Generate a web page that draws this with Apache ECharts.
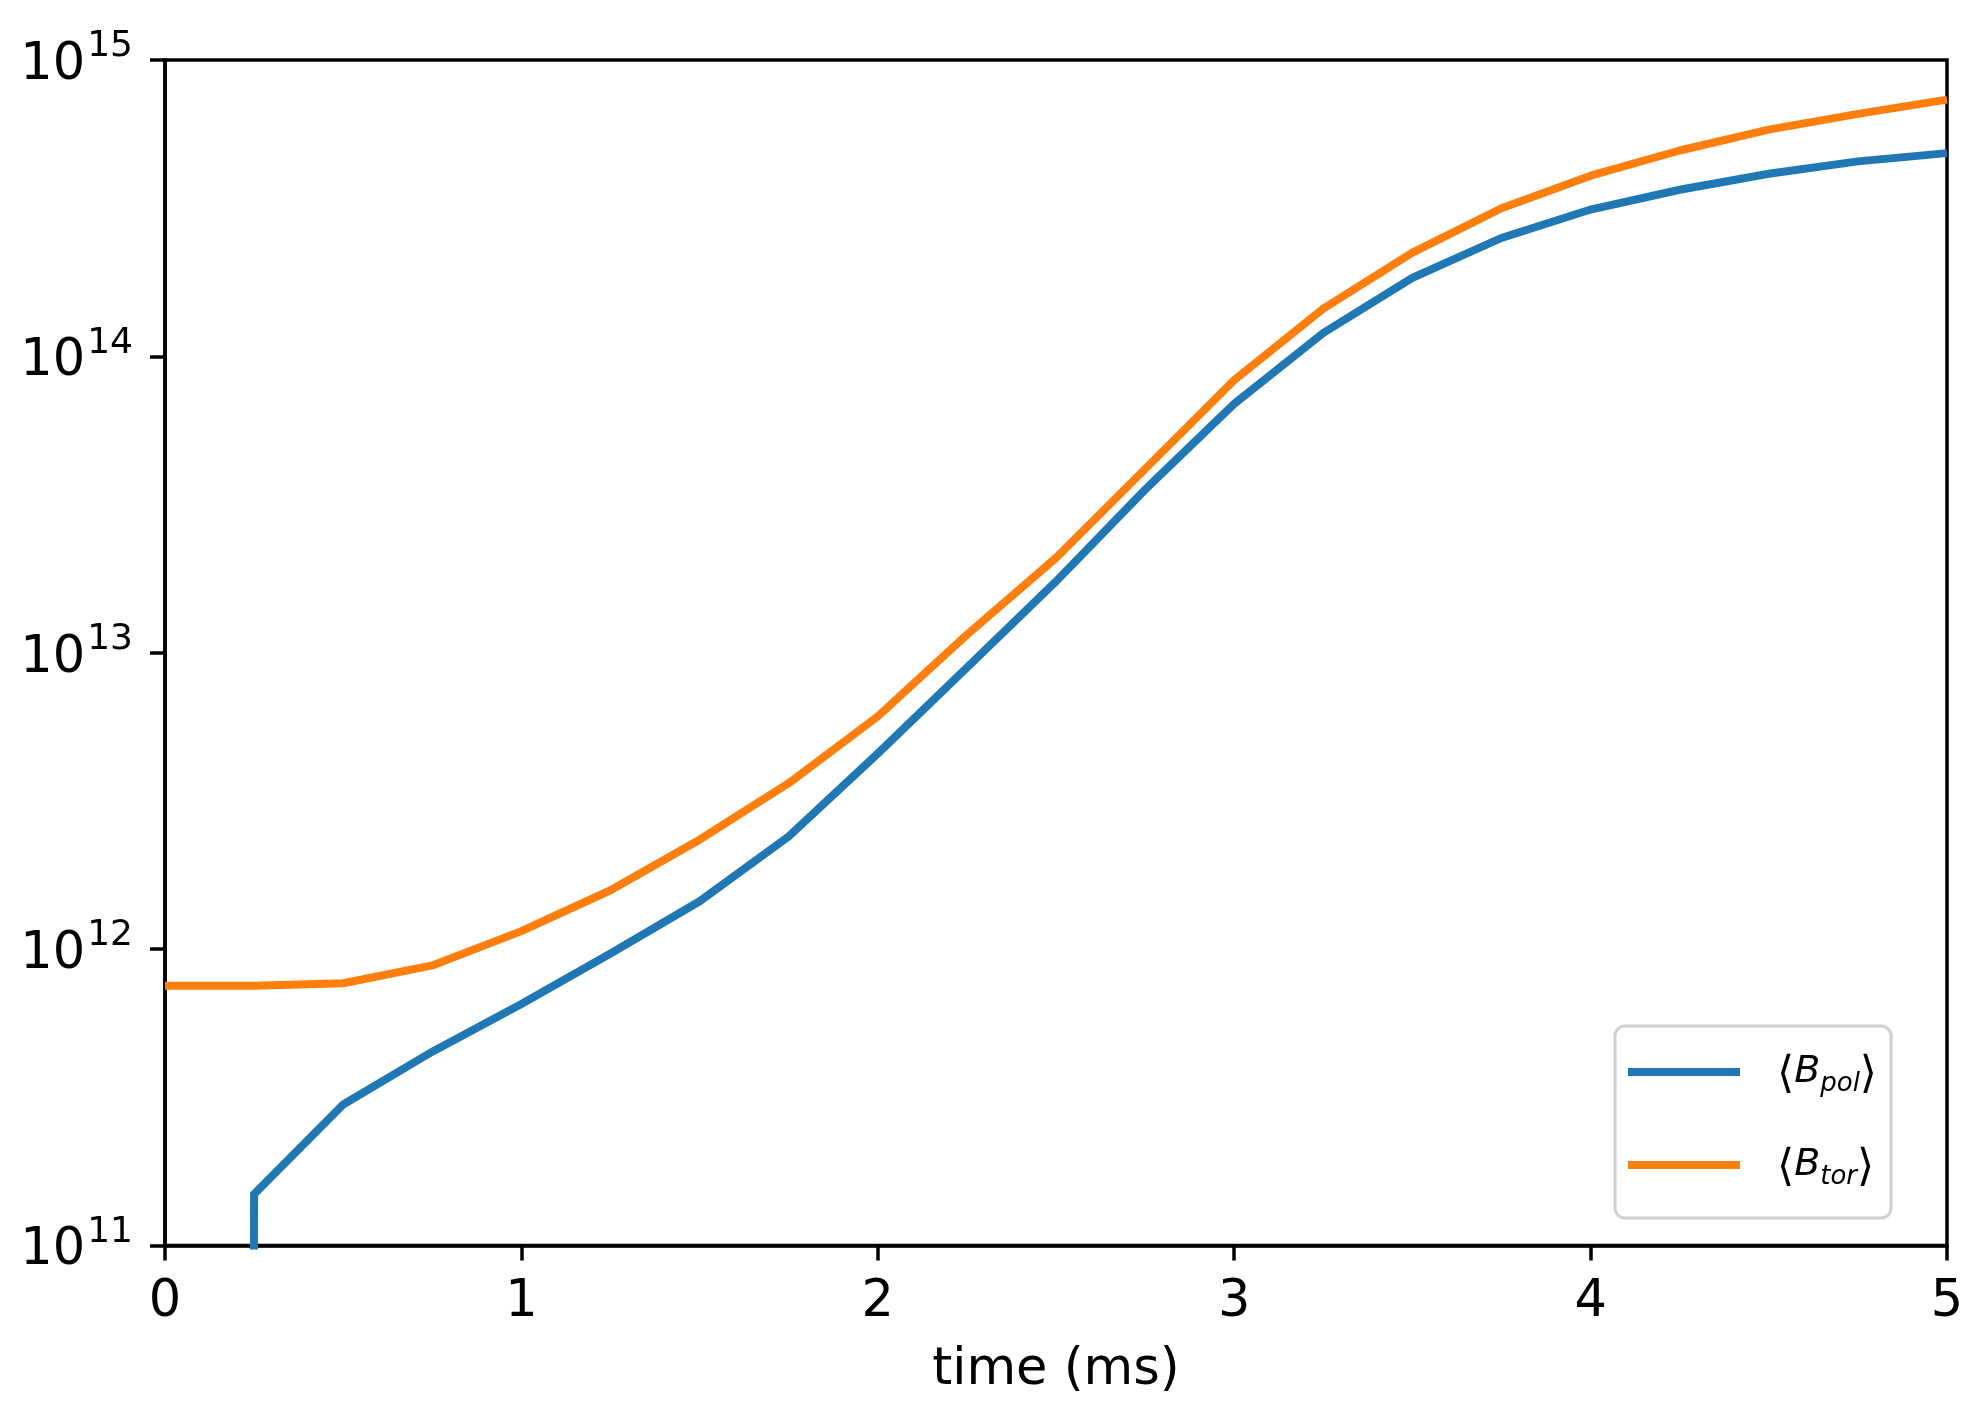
<!DOCTYPE html>
<html>
<head>
<meta charset="utf-8">
<script src="https://cdn.jsdelivr.net/npm/echarts@6/dist/echarts.min.js"></script>
<style>
html,body{margin:0;padding:0;background:#fff;}
#chart{width:1985px;height:1417px;}
</style>
</head>
<body>
<div id="chart"></div>
<script>
// ---- data ----
const times = [0, 0.25, 0.5, 0.75, 1, 1.25, 1.5, 1.75, 2, 2.25, 2.5, 2.75, 3, 3.25, 3.5, 3.75, 4, 4.25, 4.5, 4.75, 5];
const bPol = [0, 1.49e11, 2.99e11, 4.51e11, 6.53e11, 9.66e11, 1.45e12, 2.40e12, 4.57e12, 8.91e12, 1.74e13, 3.55e13, 6.92e13, 1.20e14, 1.84e14, 2.51e14, 3.13e14, 3.65e14, 4.13e14, 4.55e14, 4.85e14];
const bTor = [7.52e11, 7.53e11, 7.67e11, 8.81e11, 1.15e12, 1.58e12, 2.34e12, 3.63e12, 6.10e12, 1.15e13, 2.09e13, 4.17e13, 8.32e13, 1.45e14, 2.24e14, 3.16e14, 4.07e14, 4.95e14, 5.82e14, 6.58e14, 7.35e14];
const seriesNames = ['pol', 'tor'];
const xTicks = [0, 1, 2, 3, 4, 5];
const yMin = 1e11, yMax = 1e15;
const xLabel = 'time (ms)';

// non-positive values are clipped like matplotlib's log scale
const clipLog = v => (v > 0 ? v : 1e-100);

const FONT = 'DejaVu Sans';
const chart = echarts.init(document.getElementById('chart'), null, {renderer: 'canvas'});

const option = {
  backgroundColor: '#ffffff',
  animation: false,
  grid: {
    left: 165, right: 38, top: 60, bottom: 171.5,
    show: true, borderColor: '#000', borderWidth: 3.5, backgroundColor: 'transparent'
  },
  xAxis: {
    type: 'value', min: xTicks[0], max: xTicks[xTicks.length - 1], interval: 1,
    axisLine: {show: true, onZero: false, lineStyle: {color: '#000', width: 3.5}},
    axisTick: {show: true, inside: false, length: 15, lineStyle: {color: '#000', width: 3.5}},
    splitLine: {show: false},
    axisLabel: {color: '#000', fontFamily: FONT, fontSize: 51, margin: 32},
    name: xLabel, nameLocation: 'middle', nameGap: 100,
    nameTextStyle: {color: '#000', fontFamily: FONT, fontSize: 51}
  },
  yAxis: {
    type: 'log', logBase: 10, min: yMin, max: yMax,
    axisLine: {show: true, lineStyle: {color: '#000', width: 3.5}},
    axisTick: {show: true, inside: false, length: 15, lineStyle: {color: '#000', width: 3.5}},
    minorTick: {show: false},
    splitLine: {show: false},
    axisLabel: {
      margin: 32,
      formatter: v => '{b|10}{s|' + Math.round(Math.log10(v)) + '}',
      rich: {
        b: {color: '#000', fontFamily: FONT, fontSize: 51, lineHeight: 62, verticalAlign: 'bottom'},
        s: {color: '#000', fontFamily: FONT, fontSize: 36, lineHeight: 62, verticalAlign: 'top', padding: [0, 0, 0, 2]}
      }
    }
  },
  legend: {
    orient: 'vertical', left: 1615, top: 1026,
    padding: [12, 14, 19, 13],
    itemWidth: 112, itemHeight: 8, itemGap: 25,
    icon: 'rect', selectedMode: false,
    backgroundColor: '#fff', borderColor: '#d0d0d0', borderWidth: 3, borderRadius: 10,
    formatter: name => '{a|\u27E8}{i|B}{sub|' + name + '}{a|\u27E9}',
    textStyle: {
      padding: [0, 0, 0, 32],
      rich: {
        a: {fontFamily: FONT, fontSize: 44, color: '#000', lineHeight: 40, padding: [16, 0, 8, 0]},
        i: {fontFamily: FONT, fontStyle: 'italic', fontSize: 38, color: '#000', lineHeight: 40, padding: [12, 0, 12, 0]},
        sub: {fontFamily: FONT, fontStyle: 'italic', fontSize: 26, color: '#000', lineHeight: 36, padding: [26, 0, 2, 0]}
      }
    },
    data: seriesNames
  },
  series: [
    {
      name: seriesNames[0], type: 'line', clip: true, showSymbol: false, symbol: 'none',
      lineStyle: {color: '#1f77b4', width: 8, join: 'miter'}, itemStyle: {color: '#1f77b4'},
      data: times.map((t, i) => [t, clipLog(bPol[i])])
    },
    {
      name: seriesNames[1], type: 'line', clip: true, showSymbol: false, symbol: 'none',
      lineStyle: {color: '#ff7f0e', width: 8}, itemStyle: {color: '#ff7f0e'},
      data: times.map((t, i) => [t, clipLog(bTor[i])])
    }
  ]
};
chart.setOption(option);
</script>
</body>
</html>
